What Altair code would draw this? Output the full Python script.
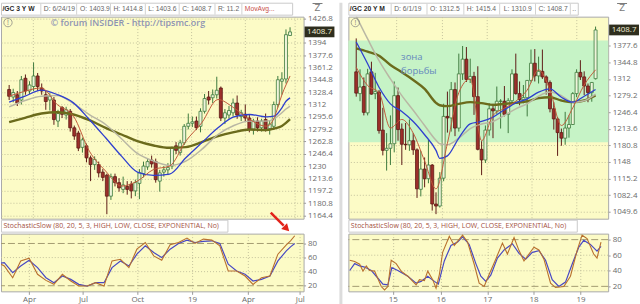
import altair as alt
import pandas as pd

FONT = "Open Sans"

# ================= LEFT PANEL: /GC 3 Y W (weekly candles, index 0 = week of 2018-02-19)
L_OPEN = [1332,1322,1325,1318,1347,1330,1336,1350,1334,1325,1318,1318,1290,1308,1298,1303,1281,1274,1255,1257,
          1241,1232,1232,1222,1218,1190,1216,1208,1199,1203,1206,1197,1207,1220,1229,1238,1236,1210,1222,1225,
          1230,1257,1248,1261,1283,1287,1290,1283,1303,1322,1321,1325,1334,1294,1298,1301,1314,1296,1299,1294,
          1279,1290,1281,1292,1280,1283,1312,1343,1346,1403.9]
L_HIGH = [1338,1333,1330,1350,1352,1343,1368,1354,1340,1330,1327,1322,1305,1310,1309,1306,1284,1277,1268,1260,
          1244,1243,1236,1226,1220,1220,1220,1214,1216,1210,1210,1212,1226,1236,1240,1244,1240,1225,1230,1234,
          1256,1262,1265,1286,1300,1296,1296,1307,1326,1330,1332,1349,1336,1306,1310,1320,1324,1305,1312,1298,
          1293,1295,1293,1300,1290,1316,1350,1355,1412,1414.8]
L_LOW = [1318,1315,1310,1312,1325,1326,1330,1330,1325,1305,1304,1285,1282,1294,1292,1276,1265,1250,1248,1235,
         1210,1225,1215,1210,1166,1185,1203,1196,1194,1192,1187,1190,1186,1215,1225,1228,1208,1196,1216,1218,
         1226,1246,1244,1258,1279,1282,1278,1275,1300,1312,1314,1320,1290,1286,1293,1296,1293,1290,1289,1275,
         1272,1276,1276,1276,1272,1279,1308,1325,1340,1403.6]
L_CLOSE = [1323,1328,1314,1345,1330,1338,1350,1336,1330,1316,1323,1292,1300,1299,1305,1281,1270,1254,1265,1241,
           1232,1239,1221,1215,1190,1216,1208,1201,1205,1199,1197,1208,1221,1230,1236,1233,1212,1221,1225,1228,
           1254,1251,1261,1283,1287,1289,1281,1303,1320,1318,1325,1331,1294,1301,1304,1314,1298,1301,1294,1279,
           1290,1281,1290,1279,1286,1312,1345,1346,1405,1408.7]

L_MA_X = [0, 3.9, 7.9, 11.8, 15.8, 19.7, 23.7, 27.6, 31.5, 35.5, 39.4, 43.4, 47.3, 51.3, 55.2, 59.1, 63.1, 65.1, 67.0, 68.0, 69.0]
L_MA_BLUE = [1315.1,1323.1,1331.1,1325.3,1314.2,1292.1,1267.7,1243.3,1222.0,1217.6,1219.4,1241.1,1261.0,1281.0,1295.6,1298.7,1295.6,1296.5,1307.6,1316.4,1320.9]
L_MA_GRAY = [1308.9,1317.3,1323.1,1324.0,1313.3,1298.7,1285.4,1266.4,1246.9,1236.7,1230.9,1236.7,1252.2,1272.1,1284.1,1289.9,1289.9,1293.0,1301.0,1306.0,1310.0]
L_MA_OLIVE = [1288.5,1294.3,1300.0,1301.8,1298.7,1291.2,1281.0,1272.1,1263.3,1257.5,1254.4,1255.3,1261.9,1269.9,1275.2,1278.8,1277.9,1280.1,1283.5,1287.5,1292.5]
L_RED_X = [0, 3.9, 7.9, 11.8, 15.8, 19.7, 23.7, 27.6, 31.5, 35.5, 39.4, 43.4, 47.3, 51.3, 55.2, 59.1, 63.1, 64.1, 65.1, 66.1, 67.0, 68.0, 69.0]
L_RED = [1323.1,1329.7,1334.2,1312.0,1296.5,1250.0,1223.4,1203.4,1210.1,1225.6,1230.0,1263.3,1287.6,1318.7,1307.6,1292.1,1283.2,1285.4,1294.3,1310.0,1325.0,1338.0,1350.0]

L_ST_X = [-0.78, 0, 2.0, 3.9, 5.9, 7.9, 9.9, 11.8, 13.8, 15.8, 17.7, 19.7, 21.7, 23.7, 25.6, 27.6, 29.6, 31.5, 33.5,
          35.5, 37.4, 39.4, 41.4, 43.4, 45.3, 47.3, 49.3, 51.2, 53.2, 55.2, 57.2, 59.1, 61.1, 63.1, 65.0, 67.0, 68.0, 69.0]
L_ST_K = [50.5, 48, 31.4, 55.2, 59, 36.2, 27.6, 22, 36.2, 26.7, 19.5, 19.5, 24.3, 19.5, 55.2, 57.6, 45.7, 71.9, 81.4,
          62.4, 56.2, 78.1, 81.4, 87.6, 80, 86.2, 84.8, 76.7, 41, 41, 33.8, 21.9, 31.4, 33.8, 64.8, 78.1, 83.8, 91]
L_ST_D = [52, 52.9, 38.6, 48, 56.2, 45.7, 31.4, 24.3, 33.8, 29, 22, 19.5, 24.3, 24.3, 45.7, 55.2, 48, 64.8, 76.7,
          67.1, 60, 71.9, 80, 84.8, 81.4, 82.9, 83.8, 80, 50.5, 41, 36.2, 26.7, 29, 33.8, 55.2, 69.5, 75.2, 80]

L_YTICKS = [1164.4,1180.8,1197.2,1213.6,1230,1246.4,1262.8,1279.2,1295.6,1312,1328.4,1344.8,1361.2,1377.6,1394,1426.8]
L_XTICKS = [5.9, 18.7, 31.6, 44.6, 57.9, 70.2]
L_XLABELS = ["Apr", "Jul", "Oct", "19", "Apr", "Jul"]
L_HEADER = ["/GC 3 Y W", "D: 6/24/19", f"O: {L_OPEN[-1]}", f"H: {L_HIGH[-1]}", f"L: {L_LOW[-1]}",
            f"C: {L_CLOSE[-1]}", f"R: {round(L_HIGH[-1] - L_LOW[-1], 1)}", "MovAvg..."]

# ================= RIGHT PANEL: /GC 20 Y M (monthly candles, index 0 = 2014-03)
R_OPEN = [1326,1283,1297,1245,1326,1283,1286,1211,1171,1175,
          1184,1279,1213,1183,1182,1190,1172,1094,1134,1115,1142,1065,
          1061,1116,1238,1235,1291,1215,1322,1351,1311,1317,1277,1173,
          1152,1211,1253,1249,1268,1268,1242,1269,1322,1283,1271,1275,
          1309,1343,1318,1327,1316,1305,1253,1233,1206,1195,1215,1222,
          1283,1325,1316,1298,1285,1312.5]
R_HIGH = [1392,1331,1315,1332,1346,1324,1290,1255,1205,1240,
          1307,1295,1224,1225,1232,1205,1175,1170,1157,1192,1144,1088,
          1128,1263,1287,1306,1305,1362,1377,1375,1352,1326,1337,1189,
          1220,1264,1263,1297,1272,1298,1274,1331,1362,1307,1300,1310,
          1370,1371,1356,1370,1319,1309,1266,1237,1214,1247,1240,1286,
          1331,1349,1327,1303,1306,1415.4]
R_LOW = [1277,1268,1240,1240,1281,1272,1204,1161,1131,1142,
         1167,1190,1142,1172,1170,1162,1077,1080,1098,1106,1052,1045,
         1058,1110,1206,1208,1199,1208,1310,1306,1304,1241,1171,1122,
         1146,1200,1195,1243,1214,1238,1205,1265,1281,1260,1264,1238,
         1305,1307,1303,1312,1281,1246,1212,1160,1180,1182,1196,1221,
         1276,1310,1280,1266,1267,1310.9]
R_CLOSE = [1284,1296,1246,1322,1282,1287,1210,1171,1175,1184,
           1279,1212,1183,1182,1190,1172,1095,1134,1115,1142,1065,1061,
           1116,1238,1235,1291,1215,1322,1351,1311,1317,1277,1173,1152,
           1211,1253,1249,1268,1268,1242,1269,1322,1283,1271,1275,1309,
           1343,1318,1327,1316,1305,1253,1233,1206,1195,1215,1222,1283,
           1325,1316,1298,1285,1305,1408.7]

R_MA_X = [0,3,6,9,12,15,18,21,22,24,27,30,33,36,39,42,45,48,51,54,57,60,63]
R_MA_BLUE = [1385,1342,1295.6,1262.8,1247.7,1228.0,1201.8,1170.9,1155,1160,1195.2,1223.4,1228.0,1236.6,1251.0,1264.8,1272.6,1285.8,1292.3,1275.9,1266.1,1277.9,1291.0]
R_MA_GRAY = [1436,1391,1348,1312,1279,1250,1220,1191,1184,1182,1195,1214,1223,1228,1240,1253,1263,1278,1286,1279,1266,1269,1282]
R_MA_OLIVE = [1372.3,1365.8,1357.9,1339.6,1325.1,1310,1292.3,1264.8,1260,1258.2,1262.8,1266.1,1264.1,1260.8,1262.8,1264.8,1268.0,1274.0,1275.9,1269.4,1266.1,1269.4,1279.2]
R_RED_X = [0,3,6,9,12,15,18,21,24,27,30,33,36,39,42,45,48,51,54,57,60,63]
R_RED = [1335,1298.9,1285,1215,1232,1205,1150,1095,1185,1285,1312,1190,1240,1254,1268,1290,1330,1290,1220,1255,1300,1330]

R_ST_K_X = [-0.42,0.84,2.1,2.94,3.78,4.62,5.88,7.56,8.4,9.24,10.08,11.34,12.6,14.29,16.39,17.23,18.49,19.33,20.59,21.43,
            22.27,23.11,24.79,26.05,28.15,29.41,31.09,32.35,33.61,34.87,36.55,38.24,39.5,41.18,42.44,43.7,44.96,46.22,
            47.48,48.74,50.42,51.68,53.78,55.46,57.14,58.4,59.66,61.34,62.18,63.19]
R_ST_K = [53.6,51.9,48.4,39.6,46.2,40.4,39.6,19.8,15.4,19.8,53.6,49.2,39.6,33.0,22.0,28.6,27.3,39.6,28.6,17.6,
          35.2,63.7,84.4,72.5,85.7,76.9,48.4,24.2,19.8,35.2,54.9,75.6,61.5,82.6,65.9,52.7,61.5,70.3,
          66.8,54.9,24.2,18.5,19.8,33.0,65.9,85.7,81.3,61.5,56.3,76.9]
R_ST_D_X = [-0.42,0.84,2.1,3.36,5.04,6.3,7.98,9.24,10.25,11.76,14.29,16.39,17.65,19.33,21.01,22.02,23.53,25.21,26.89,
            28.15,29.83,31.51,32.77,34.03,35.29,36.97,38.66,40.76,42.44,44.12,45.8,47.48,49.16,50.84,52.52,54.2,55.88,
            57.56,58.82,60.5,62.18,63.19]
R_ST_D = [40.4,49.2,46.2,44.8,40.4,33.0,22.9,22.0,44.0,40.4,33.0,24.2,26.4,33.0,26.4,22.9,52.7,72.5,76.9,
          83.5,73.8,49.2,33.0,26.4,34.3,56.3,66.8,74.7,62.4,54.9,63.7,65.9,53.6,28.6,19.8,25.5,48.4,
          70.3,79.1,73.8,65.1,71.2]

R_YTICKS = [1049.6,1082.4,1115.2,1148,1180.8,1213.6,1246.4,1279.2,1312,1344.8,1377.6]
R_XTICKS = [10.5, 22.6, 34.4, 46.1, 58.0]
R_XLABELS = ["15", "16", "17", "18", "19"]
R_ZONE = [1187, 1388]
R_ZONE_TEXT = ["зона", "борьбы"]
R_HEADER = ["/GC 20 Y M", "D: 6/1/19", f"O: {R_OPEN[-1]}", f"H: {R_HIGH[-1]}", f"L: {R_LOW[-1]}",
            f"C: {R_CLOSE[-1]}", ".."]

STOCH_TITLE = "StochasticSlow (80, 20, 5, 3, HIGH, LOW, CLOSE, EXPONENTIAL, No)"
STOCH_DASH = [20, 80]
STOCH_DOT = [40, 60]
WATERMARK = "© forum INSIDER - http://tipsmc.org"

# ================= styles
YELLOW = "#fcfbc6"
GRID = "#c4c29c"
ZONE = "#c6f3c6"
UP_FILL, UP_STROKE = "#eef4da", "#3d7a3d"
DN_FILL, DN_STROKE = "#9c2f2a", "#5e1a16"
C_OLIVE, C_GRAY, C_BLUE, C_RED = "#6b6b1c", "#b9b7a4", "#2f3fcf", "#c05a3a"
C_K, C_D = "#b8702e", "#4848c4"
LBL = "#6a6a6a"
VIEW = alt.ViewBackground(fill=YELLOW, stroke="#a8a8a8", strokeWidth=1)
NOVIEW = alt.ViewBackground(fill=None, stroke=None)
ONE = pd.DataFrame({"d": [0]})


def candle_df(o, h, l, c):
    return pd.DataFrame({"x": list(range(len(o))), "open": o, "high": h, "low": l, "close": c,
                         "dir": ["up" if cc >= oo else "down" for oo, cc in zip(o, c)]})


def line_df(xs, vs):
    return pd.DataFrame({"x": xs, "v": vs})


def xlabel_expr(vals, labs):
    expr = f"'{labs[-1]}'"
    for v, l in reversed(list(zip(vals[:-1], labs[:-1]))):
        expr = f"datum.value <= {v + 0.01} ? '{l}' : " + expr
    return expr


def header(items, xs, seps, box_end, W, last_red=False):
    base = alt.Chart(ONE)
    layers = [base.mark_rect(fill="white", stroke="#cacaca", strokeWidth=1).encode(
        x=alt.value(0.5), x2=alt.value(box_end), y=alt.value(0.5), y2=alt.value(12.5))]
    for s in seps:
        layers.append(base.mark_rule(color="#d2d2d2").encode(x=alt.value(s), y=alt.value(1), y2=alt.value(12)))
    for k, (t, px) in enumerate(zip(items, xs)):
        col = "#2a2a2a" if k == 0 else "#666666"
        if last_red and k == len(items) - 1:
            col = "#c8504a"
        layers.append(base.mark_text(align="left", baseline="middle", font="Liberation Sans", fontSize=6.8,
                                     fontWeight="bold" if k == 0 else "normal",
                                     color=col).encode(x=alt.value(px), y=alt.value(6.8), text=alt.value(t)))
    # zoom icon above the price axis
    layers.append(base.mark_text(align="center", baseline="middle", font="DejaVu Sans", fontSize=8.5,
                                 color="#7a7a7a").encode(x=alt.value(W + 14), y=alt.value(5), text=alt.value("Z")))
    layers.append(base.mark_rule(color="#7a7a7a", strokeWidth=1).encode(
        x=alt.value(W + 9), x2=alt.value(W + 19), y=alt.value(0.8)))
    return alt.layer(*layers).properties(width=W, height=13, view=NOVIEW)


def price_chart(cdf, lines, xdom, ydom, yticks, xticks, W, H, zone=None, extras=()):
    xs = alt.Scale(domain=xdom, nice=False, zero=False)
    ys = alt.Scale(domain=ydom, nice=False, zero=False)
    xax = alt.Axis(values=xticks, labels=False, ticks=False, domain=False, grid=True, gridDash=[1, 2],
                   gridColor=GRID, title=None)
    yax = alt.Axis(orient="right", values=yticks, format=".1~f", grid=True, gridDash=[1, 2], gridColor=GRID,
                   tickSize=2, tickColor="#9a9a9a", labelPadding=2, labelFontSize=8, labelFont=FONT,
                   labelColor=LBL, domain=False, title=None, labelOverlap=False, labelFlush=False)
    X = alt.X("x:Q", scale=xs, axis=xax, title=None)
    layers = []
    if zone is not None:
        layers.append(alt.Chart(ONE).mark_rect(color=ZONE).encode(
            x=alt.value(0), x2=alt.value(W),
            y=alt.YDatum(zone[0], scale=ys, axis=yax, title=None), y2=alt.Y2Datum(zone[1])))
    base = alt.Chart(cdf).encode(x=X)
    layers.append(base.mark_rule(strokeWidth=1).encode(
        y=alt.Y("low:Q", scale=ys, axis=yax, title=None), y2="high:Q",
        color=alt.Color("dir:N", scale=alt.Scale(domain=["up", "down"], range=[UP_STROKE, DN_STROKE]), legend=None)))
    layers.append(base.mark_bar(size=3, strokeWidth=0.8).encode(
        y=alt.Y("open:Q", scale=ys, axis=yax, title=None), y2="close:Q",
        fill=alt.Fill("dir:N", scale=alt.Scale(domain=["up", "down"], range=[UP_FILL, DN_FILL]), legend=None),
        stroke=alt.Stroke("dir:N", scale=alt.Scale(domain=["up", "down"], range=[UP_STROKE, DN_STROKE]), legend=None)))
    for df, col, wdt in lines:
        layers.append(alt.Chart(df).mark_line(color=col, strokeWidth=wdt, clip=True, interpolate="monotone").encode(
            x=X, y=alt.Y("v:Q", scale=ys, axis=yax, title=None)))
    last = cdf["close"].iloc[-1]
    layers.append(alt.Chart(ONE).mark_point(shape="M-1,-0.36H1V0.36H-1Z", filled=True, size=900,
                                            color="#2e2e1e", opacity=1).encode(
        x=alt.value(W + 16), y=alt.YDatum(last, scale=ys, axis=yax, title=None)))
    layers.append(alt.Chart(ONE).mark_text(font=FONT, fontSize=8, color="#f3f1d8", baseline="middle").encode(
        x=alt.value(W + 16), y=alt.YDatum(last, scale=ys, axis=yax, title=None), text=alt.value(f"{last}")))
    # info icon
    layers.append(alt.Chart(ONE).mark_point(shape="circle", size=70, filled=False, color="#7d7d7d",
                                            strokeWidth=1).encode(x=alt.value(7), y=alt.value(6)))
    layers.append(alt.Chart(ONE).mark_text(font=FONT, fontSize=7, color="#7d7d7d", baseline="middle").encode(
        x=alt.value(7), y=alt.value(6), text=alt.value("!")))
    layers.extend(extras)
    return alt.layer(*layers).properties(width=W, height=H, view=VIEW)


def stoch_header(W, box_end, extras=()):
    base = alt.Chart(ONE)
    layers = [base.mark_rect(fill="white", stroke="#cacaca", strokeWidth=1).encode(
        x=alt.value(0.5), x2=alt.value(box_end), y=alt.value(0.5), y2=alt.value(12.5)),
        base.mark_text(align="left", baseline="middle", font=FONT, fontSize=7, color="#a4503e").encode(
            x=alt.value(2.5), y=alt.value(6.8), text=alt.value(STOCH_TITLE))]
    layers.extend(extras)
    return alt.layer(*layers).properties(width=W, height=13, view=NOVIEW)


def stoch_chart(kdf, ddf, xdom, ydom, xticks, xlabels, W, H):
    xs = alt.Scale(domain=xdom, nice=False, zero=False)
    ys = alt.Scale(domain=ydom, nice=False, zero=False)
    xax = alt.Axis(values=xticks, labelExpr=xlabel_expr(xticks, xlabels), grid=True, gridDash=[1, 2],
                   gridColor=GRID, tickSize=3, tickColor="#9a9a9a", labelPadding=1, labelFontSize=8,
                   labelFont=FONT, labelColor=LBL, domain=False, title=None, labelFlush=False, labelOverlap=False)
    yax = alt.Axis(orient="right", values=[20, 40, 60, 80], grid=False, tickSize=2, tickColor="#9a9a9a",
                   labelPadding=2, labelFontSize=8, labelFont=FONT, labelColor=LBL, domain=False, title=None)
    X = alt.X("x:Q", scale=xs, axis=xax, title=None)
    dash = alt.Chart(pd.DataFrame({"v": STOCH_DASH})).mark_rule(color="#a39c72", strokeDash=[7, 3], strokeWidth=1).encode(
        y=alt.Y("v:Q", scale=ys, axis=yax, title=None))
    dot = alt.Chart(pd.DataFrame({"v": STOCH_DOT})).mark_rule(color=GRID, strokeDash=[1, 2], strokeWidth=1).encode(
        y=alt.Y("v:Q", scale=ys, axis=yax, title=None))
    d = alt.Chart(ddf).mark_line(color=C_D, strokeWidth=1.2, clip=True).encode(
        x=X, y=alt.Y("v:Q", scale=ys, axis=yax, title=None))
    k = alt.Chart(kdf).mark_line(color=C_K, strokeWidth=1.1, clip=True).encode(
        x=X, y=alt.Y("v:Q", scale=ys, axis=yax, title=None))
    return alt.layer(dash, dot, d, k).properties(width=W, height=H, view=VIEW)


# ================= build
LW, RW, PH, SH = 304, 261, 203, 58
L_XDOM = [-0.78, 71.1]
R_XDOM = [-0.76, 65.0]

sep_bar = alt.Chart(ONE).mark_rule(color="#dcdcdc", strokeWidth=3).encode(
    x=alt.value(341.5), y=alt.value(-14), y2=alt.value(290))
watermark = alt.Chart(ONE).mark_text(font=FONT, fontSize=9, fontWeight=600, color="#8d93b3", align="left",
                                     baseline="middle").encode(x=alt.value(50), y=alt.value(6.5),
                                                               text=alt.value(WATERMARK))
zone_text = [alt.Chart(ONE).mark_text(font=FONT, fontSize=9.5, color="#6387bd", align="left",
                                      baseline="middle").encode(x=alt.value(53), y=alt.value(yy), text=alt.value(t))
             for t, yy in zip(R_ZONE_TEXT, [41, 55])]

left_lines = [(line_df(L_MA_X, L_MA_OLIVE), C_OLIVE, 2.4), (line_df(L_MA_X, L_MA_GRAY), C_GRAY, 1.5),
              (line_df(L_MA_X, L_MA_BLUE), C_BLUE, 1.3), (line_df(L_RED_X, L_RED), C_RED, 1.0)]
right_lines = [(line_df(R_MA_X, R_MA_OLIVE), C_OLIVE, 2.4), (line_df(R_MA_X, R_MA_GRAY), C_GRAY, 1.5),
               (line_df(R_MA_X, R_MA_BLUE), C_BLUE, 1.3), (line_df(R_RED_X, R_RED), C_RED, 1.0)]

arrow = [alt.Chart(ONE).mark_rule(color="#e2231a", strokeWidth=2.5).encode(
    x=alt.value(271), y=alt.value(-7), x2=alt.value(284), y2=alt.value(6)),
    alt.Chart(ONE).mark_point(shape="triangle-up", filled=True, color="#e2231a", size=70, angle=135, opacity=1).encode(
        x=alt.value(287), y=alt.value(9))]

left = alt.vconcat(
    header(L_HEADER, [1.5, 43, 79.5, 113, 148, 182, 218, 245], [40, 76, 110, 145, 179, 215, 242], 293, LW,
           last_red=True),
    price_chart(candle_df(L_OPEN, L_HIGH, L_LOW, L_CLOSE), left_lines, L_XDOM, [1160, 1429], L_YTICKS,
                L_XTICKS, LW, PH, extras=[watermark, sep_bar]),
    stoch_header(LW, 228, extras=arrow),
    stoch_chart(line_df(L_ST_X, L_ST_K), line_df(L_ST_X, L_ST_D), L_XDOM, [12, 94], L_XTICKS, L_XLABELS, LW, SH),
    spacing=1, bounds="flush").resolve_scale(x="independent", y="independent")

right = alt.vconcat(
    header(R_HEADER, [1.5, 46, 82, 119, 156, 191, 225], [43, 79, 116, 152, 188, 223], 231, RW),
    price_chart(candle_df(R_OPEN, R_HIGH, R_LOW, R_CLOSE), right_lines, R_XDOM, [1036, 1435], R_YTICKS,
                R_XTICKS, RW, PH, zone=R_ZONE, extras=zone_text),
    stoch_header(RW, 230),
    stoch_chart(line_df(R_ST_K_X, R_ST_K), line_df(R_ST_D_X, R_ST_D), R_XDOM, [13.6, 87.7], R_XTICKS, R_XLABELS,
                RW, SH),
    spacing=1, bounds="flush").resolve_scale(x="independent", y="independent")

chart = alt.hconcat(left, right, spacing=4).resolve_scale(
    x="independent", y="independent", color="independent", fill="independent", stroke="independent"
).properties(padding=0, background="white").configure_view(stroke=None)

chart.save("out.html", embed_options={"renderer": "svg", "actions": False})
